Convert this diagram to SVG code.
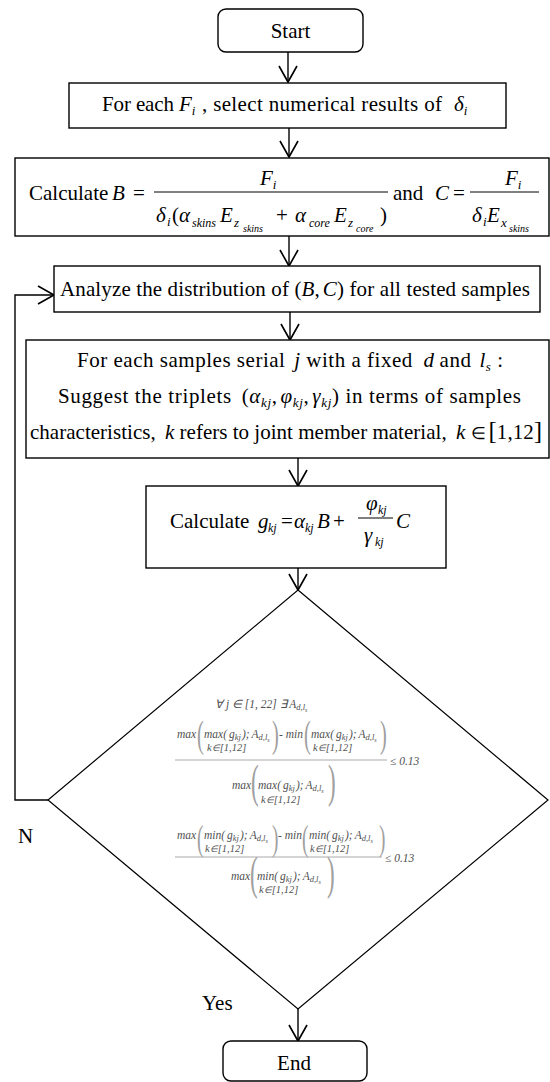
<svg xmlns="http://www.w3.org/2000/svg" width="550" height="1082" viewBox="0 0 550 1082" font-family="'Liberation Serif','Times New Roman',serif">
<style>
text{font-family:"Liberation Serif","Times New Roman",serif;fill:#000}
.t{font-size:21px}
.i{font-style:italic}
.s13{font-size:13px;font-style:italic}
.s12{font-size:12px;font-style:italic}
.s10{font-size:10px;font-style:italic}
.box{fill:#fff;stroke:#000;stroke-width:1.4}
.con{fill:none;stroke:#000;stroke-width:1.4}
.fl{stroke:#000;stroke-width:1}
.f{font-size:11.5px;font-style:italic;fill:#505050}
.fs{font-size:8.5px}
.fss{font-size:6px}
.fk{font-size:10.5px;font-style:italic;fill:#505050}
.pr{fill:#a0a0a0;font-style:normal}
.gl{stroke:#a0a0a0;stroke-width:0.9}
</style>
<defs>
<marker id="ah" markerUnits="userSpaceOnUse" markerWidth="24" markerHeight="24" viewBox="-20 -12 24 24" refX="0" refY="0" orient="auto" overflow="visible">
<path d="M-16,-9 L0,0 L-16,9" fill="none" stroke="#000" stroke-width="1.6"/>
</marker>
<g id="fmax"><text class="f">max(<tspan dx="2">g</tspan><tspan class="fs" dy="2">kj</tspan><tspan dy="-2" dx="1">);</tspan><tspan dx="2">A</tspan><tspan class="fs" dy="2">d,l</tspan><tspan class="fss" dy="2">s</tspan></text></g>
<g id="fmin"><text class="f">min(<tspan dx="2">g</tspan><tspan class="fs" dy="2">kj</tspan><tspan dy="-2" dx="1">);</tspan><tspan dx="2">A</tspan><tspan class="fs" dy="2">d,l</tspan><tspan class="fss" dy="2">s</tspan></text></g>
<g id="krange"><text class="fk">k<tspan style="font-size:9px">∈</tspan>[1,12]</text></g>
</defs>

<g id="connectors">
<line class="con" x1="288" y1="52" x2="288" y2="82" marker-end="url(#ah)"/>
<line class="con" x1="289" y1="128" x2="289" y2="157" marker-end="url(#ah)"/>
<line class="con" x1="289" y1="236" x2="289" y2="266" marker-end="url(#ah)"/>
<line class="con" x1="290" y1="312" x2="290" y2="340" marker-end="url(#ah)"/>
<line class="con" x1="298" y1="458" x2="298" y2="486" marker-end="url(#ah)"/>
<line class="con" x1="298" y1="568" x2="298" y2="590" marker-end="url(#ah)"/>
<line class="con" x1="298" y1="1009" x2="298" y2="1041" marker-end="url(#ah)"/>
<path class="con" d="M48,800 H15 V295 H54" marker-end="url(#ah)"/>
<text class="t" x="18" y="843">N</text>
<text class="t" x="202" y="1010">Yes</text>
</g>

<g id="start">
<rect class="box" x="218" y="9" width="145" height="43" rx="8"/>
<text class="t" x="290.5" y="38" text-anchor="middle">Start</text>
</g>

<g id="select">
<rect class="box" x="69" y="83" width="437" height="45"/>
<text class="t" x="102" y="111" textLength="72" lengthAdjust="spacing">For each</text>
<text class="t" y="111"><tspan x="179" class="i">F</tspan><tspan class="s13" dy="4">i</tspan></text>
<text class="t" x="202" y="111" textLength="240" lengthAdjust="spacing">, select numerical results of</text>
<text class="t" y="111"><tspan x="454" class="i">δ</tspan><tspan class="s13" dy="4">i</tspan></text>
</g>

<g id="calcBC">
<rect class="box" x="15" y="158" width="534" height="78"/>
<text class="t" x="29" y="200">Calculate</text>
<text class="t" y="200"><tspan x="112" class="i">B</tspan><tspan x="133">=</tspan></text>
<line class="fl" x1="154" y1="192" x2="388" y2="192"/>
<text class="t" y="185"><tspan x="260" class="i">F</tspan><tspan class="s13" dy="4">i</tspan></text>
<text class="t" y="222"><tspan x="156" class="i">δ</tspan><tspan class="s13" x="167" y="226">i</tspan><tspan x="172" y="222">(</tspan><tspan x="179" class="i">α</tspan><tspan class="s12" x="192" y="227">skins</tspan><tspan x="220" y="222" class="i">E</tspan><tspan class="s13" x="234" y="227">z</tspan><tspan class="s10" x="243" y="232">skins</tspan><tspan x="276" y="222">+</tspan><tspan x="295" class="i">α</tspan><tspan class="s12" x="309" y="227">core</tspan><tspan x="334" y="222" class="i">E</tspan><tspan class="s13" x="348" y="227">z</tspan><tspan class="s10" x="356" y="232">core</tspan><tspan x="380" y="222">)</tspan></text>
<text class="t" x="393" y="200">and</text>
<text class="t" y="200"><tspan x="435" class="i">C</tspan><tspan x="453">=</tspan></text>
<line class="fl" x1="470" y1="192" x2="539" y2="192"/>
<text class="t" y="185"><tspan x="505" class="i">F</tspan><tspan class="s13" dy="4">i</tspan></text>
<text class="t" y="222"><tspan x="472" class="i">δ</tspan><tspan class="s13" x="483" y="226">i</tspan><tspan x="487" y="222" class="i">E</tspan><tspan class="s13" x="501" y="227">x</tspan><tspan class="s10" x="509" y="232">skins</tspan></text>
</g>

<g id="analyze">
<rect class="box" x="54" y="266" width="486" height="46"/>
<text class="t" x="60" y="296" textLength="470" lengthAdjust="spacing">Analyze the distribution of (<tspan class="i">B</tspan>,<tspan class="i" dx="3">C</tspan>) for all tested samples</text>
</g>

<g id="triplets">
<rect class="box" x="26" y="340" width="523" height="118"/>
<text class="t" x="77" y="367" textLength="426" lengthAdjust="spacing">For each samples serial <tspan class="i" dx="3">j</tspan> with a fixed <tspan class="i" dx="5">d</tspan><tspan dx="5">and</tspan><tspan class="i" dx="8">l</tspan><tspan class="s13" dy="4">s</tspan><tspan dy="-4"> :</tspan></text>
<text class="t" x="58" y="403" textLength="463" lengthAdjust="spacing">Suggest the triplets <tspan dx="4">(</tspan><tspan class="i">α</tspan><tspan class="s13" dy="4">kj</tspan><tspan dy="-4">,</tspan><tspan class="i" dx="3">φ</tspan><tspan class="s13" dy="4">kj</tspan><tspan dy="-4">,</tspan><tspan class="i" dx="3">γ</tspan><tspan class="s13" dy="4">kj</tspan><tspan dy="-4">)</tspan><tspan dx="6">in terms of samples</tspan></text>
<text class="t" x="30" y="439" textLength="512" lengthAdjust="spacing">characteristics, <tspan class="i" dx="4">k</tspan> refers to joint member material, <tspan class="i" dx="4">k</tspan> <tspan style="font-size:17px">∈</tspan><tspan dx="3" style="font-size:25px">[</tspan>1,12<tspan style="font-size:25px">]</tspan></text>
</g>

<g id="calcG">
<rect class="box" x="146" y="486" width="300" height="82"/>
<text class="t" x="170" y="528">Calculate</text>
<text class="t" y="528"><tspan x="258" class="i">g</tspan><tspan class="s12" x="268" y="532">kj</tspan><tspan x="281" y="528">=</tspan><tspan x="294" class="i">α</tspan><tspan class="s12" x="305" y="532">kj</tspan><tspan x="317" y="528" class="i">B</tspan><tspan x="333">+</tspan><tspan x="396" class="i">C</tspan></text>
<line class="fl" x1="358" y1="518" x2="393" y2="518"/>
<text class="t" y="510"><tspan x="366" class="i">φ</tspan><tspan class="s12" x="378" y="514">kj</tspan></text>
<text class="t" y="542"><tspan x="364" class="i">γ</tspan><tspan class="s12" x="375" y="546">kj</tspan></text>
</g>

<g id="check">
<polygon class="box" points="298,590 548,800 298,1009 48,800" style="stroke-width:1.2"/>
<text class="f" x="215" y="708">∀ j ∈ [1, 22] ∃ A<tspan class="fs" dy="2">d,l</tspan><tspan class="fss" dy="2">s</tspan></text>
<text class="f" x="177" y="738">max</text>
<text class="f pr" style="font-size:37px" transform="translate(197 747) scale(0.55 1)">(</text>
<use href="#fmax" x="204" y="738"/>
<use href="#krange" x="207" y="751"/>
<text class="f pr" style="font-size:37px" transform="translate(272 747) scale(0.55 1)">)</text>
<text class="f" x="279" y="738">- min</text>
<text class="f pr" style="font-size:37px" transform="translate(304 747) scale(0.55 1)">(</text>
<use href="#fmax" x="311" y="738"/>
<use href="#krange" x="313" y="751"/>
<text class="f pr" style="font-size:37px" transform="translate(380 747) scale(0.55 1)">)</text>
<line class="gl" x1="175" y1="760" x2="387" y2="760"/>
<text class="f" x="390" y="765">≤ 0.13</text>
<text class="f" x="232" y="789">max</text>
<text class="f pr" style="font-size:46px" transform="translate(251 797) scale(0.5 1)">(</text>
<use href="#fmax" x="258" y="789"/>
<use href="#krange" x="261" y="803"/>
<text class="f pr" style="font-size:46px" transform="translate(328 797) scale(0.5 1)">)</text>
<text class="f" x="177" y="839">max</text>
<text class="f pr" style="font-size:35px" transform="translate(197 850) scale(0.55 1)">(</text>
<use href="#fmin" x="204" y="839"/>
<use href="#krange" x="205" y="852"/>
<text class="f pr" style="font-size:35px" transform="translate(272 850) scale(0.55 1)">)</text>
<text class="f" x="278" y="839">- min</text>
<text class="f pr" style="font-size:35px" transform="translate(302 850) scale(0.55 1)">(</text>
<use href="#fmin" x="309" y="839"/>
<use href="#krange" x="310" y="852"/>
<text class="f pr" style="font-size:35px" transform="translate(379 850) scale(0.55 1)">)</text>
<line class="gl" x1="175" y1="857" x2="382" y2="857"/>
<text class="f" x="385" y="862">≤ 0.13</text>
<text class="f" x="231" y="880">max</text>
<text class="f pr" style="font-size:46px" transform="translate(250 889) scale(0.5 1)">(</text>
<use href="#fmin" x="257" y="880"/>
<use href="#krange" x="259" y="893"/>
<text class="f pr" style="font-size:46px" transform="translate(327 889) scale(0.5 1)">)</text>
</g>

<g id="end">
<rect class="box" x="223" y="1041" width="144" height="40" rx="8"/>
<text class="t" x="294" y="1070" text-anchor="middle">End</text>
</g>
</svg>
